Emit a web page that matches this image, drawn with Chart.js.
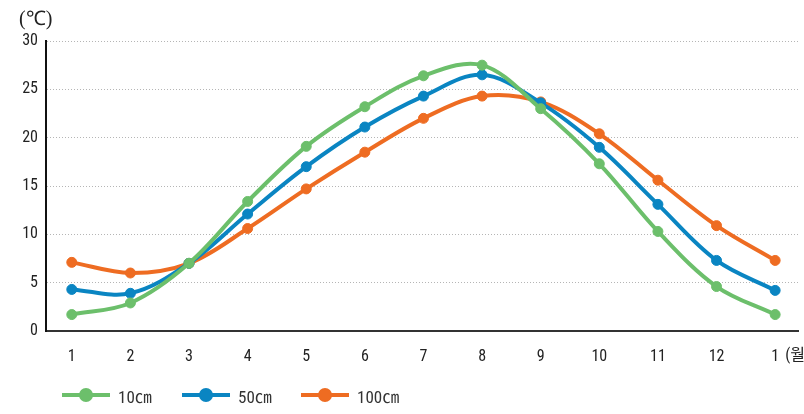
<!DOCTYPE html>
<html><head><meta charset="utf-8">
<script src="https://cdn.jsdelivr.net/npm/chart.js@4.4.1/dist/chart.umd.min.js"></script>
<style>
html,body{margin:0;padding:0;background:#fff;width:804px;height:414px;overflow:hidden;}
#wrap{position:relative;width:804px;height:414px;}
canvas{position:absolute;left:0;top:0;}
#unit{position:absolute;left:19px;top:4px;font:20px "Liberation Serif",serif;color:#222;}
#legend{position:absolute;left:62px;top:382px;height:26px;font-family:"Liberation Sans Narrow","Roboto Condensed",Roboto,"Noto Sans CJK KR",sans-serif;font-size:17px;color:#333;}
.li{position:absolute;top:0;height:26px;white-space:nowrap;}
.li .ln{position:absolute;left:0;top:11px;width:48px;height:4px;}
.li .dt{position:absolute;left:17px;top:6px;width:14px;height:14px;border-radius:50%;}
.li .tx{position:absolute;left:56px;top:1px;}
</style></head>
<body><div id="wrap"><canvas id="c" width="804" height="414"></canvas><div id="unit">(℃)</div><div id="legend"></div></div>
<script>
const months = ['1','2','3','4','5','6','7','8','9','10','11','12','1'];
const seriesNames = ['10㎝','50㎝','100㎝'];
const depth10 = [1.7, 2.9, 7.0, 13.4, 19.1, 23.2, 26.4, 27.5, 23.0, 17.3, 10.3, 4.6, 1.7];
const depth50 = [4.3, 3.9, 7.0, 12.1, 17.0, 21.1, 24.3, 26.5, 23.6, 19.0, 13.1, 7.3, 4.2];
const depth100 = [7.1, 6.0, 7.0, 10.6, 14.7, 18.5, 22.0, 24.3, 23.7, 20.4, 15.6, 10.9, 7.3];
const colors = ['#6cbf6b','#0a85c2','#ee6c22'];
const yTicks = [0,5,10,15,20,25,30];
const monthSuffix = '(월)';

const FONT = '"Liberation Sans Narrow","Roboto Condensed",Roboto,"Noto Sans CJK KR",sans-serif';
const toPts = arr => arr.map((v,i)=>({x:i+1,y:v}));
const allSeries = [depth10, depth50, depth100];
const datasets = allSeries.map((d,i)=>({
  label: seriesNames[i], data: toPts(d),
  borderColor: colors[i], backgroundColor: colors[i],
  pointBackgroundColor: colors[i], pointBorderColor: colors[i],
  borderWidth: 4, pointRadius: 5, pointHoverRadius: 5, pointBorderWidth: 1, tension: 0.35
}));

const suffixPlugin = {
  id: 'suffix',
  afterDraw(chart){
    const xs = chart.scales.x, ctx = chart.ctx;
    const px = xs.getPixelForValue(months.length);
    ctx.save();
    ctx.font = '16px ' + FONT;
    ctx.fillStyle = '#222';
    ctx.textBaseline = 'middle';
    ctx.textAlign = 'left';
    ctx.fillText(monthSuffix, px + 10, 356);
    ctx.restore();
  }
};

new Chart(document.getElementById('c'), {
  type: 'line',
  data: { datasets },
  options: {
    responsive: false, animation: false,
    layout: { padding: { top: 41, right: 0, left: 0, bottom: 0 } },
    plugins: { legend: { display: false }, tooltip: { enabled: false } },
    scales: {
      x: {
        type: 'linear', min: 0.56, max: 13.39,
        afterFit(s){ s.height = 83; },
        grid: { display: false, drawTicks: false },
        border: { display: true, color: '#333', width: 2 },
        ticks: {
          stepSize: 1, includeBounds: false, autoSkip: false, maxRotation: 0,
          padding: 16, color: '#222', font: { family: FONT, size: 16 },
          callback: v => (Number.isInteger(v) && v >= 1 && v <= months.length) ? months[v-1] : ''
        }
      },
      y: {
        min: 0, max: 30,
        afterFit(s){ s.width = 46; },
        afterBuildTicks(s){ s.ticks = yTicks.map(v=>({value:v})); },
        grid: { color: '#b5b5b5', lineWidth: 1, drawTicks: false },
        border: { display: true, color: '#111', width: 2, dash: [1,2] },
        ticks: { padding: 8, color: '#222', font: { family: FONT, size: 16 } }
      }
    }
  },
  plugins: [suffixPlugin]
});

const lg = document.getElementById('legend');
const lx = [0, 120, 239];
seriesNames.forEach((n,i)=>{
  const d = document.createElement('div'); d.className='li'; d.style.left = lx[i]+'px';
  d.innerHTML = '<div class="ln" style="background:'+colors[i]+'"></div><div class="dt" style="background:'+colors[i]+'"></div><span class="tx">'+n+'</span>';
  lg.appendChild(d);
});
</script></body></html>
